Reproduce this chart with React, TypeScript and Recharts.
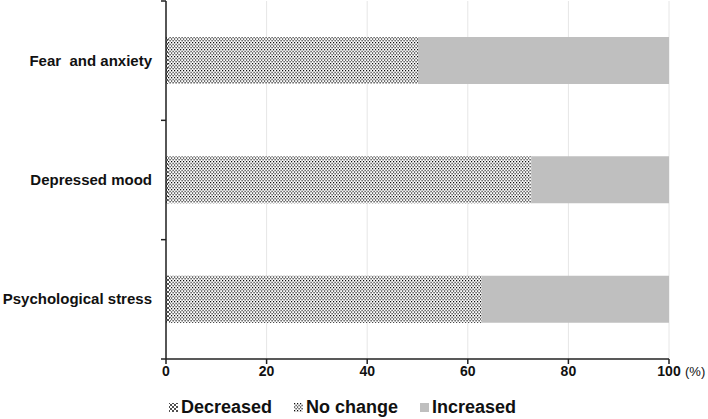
import React from 'react';
import { BarChart, Bar, XAxis, YAxis, CartesianGrid, Legend } from 'recharts';

const categories = ['Fear  and anxiety', 'Depressed mood', 'Psychological stress'];
const decreased = [0.4, 0.4, 0.8];
const noChange = [49.7, 72.2, 62.0];
const increased = [49.9, 27.4, 37.2];
const xTicks = [0, 20, 40, 60, 80, 100];

const data = categories.map((name, i) => ({
  name,
  decreased: decreased[i],
  noChange: noChange[i],
  increased: increased[i],
}));

const W = 708;
const H = 419;
const LEFT_W = 166;
const TOP = 1;
const PLOT_BOTTOM = 359;
const FONT = 'Arial, "Liberation Sans", sans-serif';
const AXIS = '#222';

const band = (PLOT_BOTTOM - TOP) / categories.length;

const CategoryTick = ({ y, payload, index }: any) => {
  const top = y - band / 2;
  return (
    <g>
      <text
        x={LEFT_W - 14}
        y={y}
        dy={5}
        textAnchor="end"
        fontFamily={FONT}
        fontWeight="bold"
        fontSize={15}
        fill="#111"
        style={{ whiteSpace: 'pre' }}
      >
        {payload.value}
      </text>
      <line x1={LEFT_W - 5} x2={LEFT_W} y1={top} y2={top} stroke={AXIS} strokeWidth={1.5} />
      {index === categories.length - 1 && (
        <line x1={LEFT_W - 5} x2={LEFT_W} y1={top + band} y2={top + band} stroke={AXIS} strokeWidth={1.5} />
      )}
    </g>
  );
};

const ValueTick = ({ x, y, payload }: any) => (
  <g>
    <text x={x} y={y} dy={10} textAnchor="middle" fontFamily={FONT} fontWeight="bold" fontSize={14} fill="#111">
      {payload.value}
    </text>
    {payload.value === 100 && (
      <text x={x + 16} y={y} dy={10} textAnchor="start" fontFamily={FONT} fontSize={13} fill="#111">
        (%)
      </text>
    )}
  </g>
);

const legendItems = [
  { key: 'decreased', label: 'Decreased', fill: 'url(#patDec)' },
  { key: 'noChange', label: 'No change', fill: 'url(#patNo)' },
  { key: 'increased', label: 'Increased', fill: '#bfbfbf' },
];

const LegendContent = () => (
  <div
    style={{
      display: 'flex',
      justifyContent: 'center',
      gap: 22,
      paddingTop: 12,
      paddingLeft: 16,
      fontFamily: FONT,
      fontWeight: 'bold',
      fontSize: 18,
      color: '#111',
    }}
  >
    {legendItems.map((it) => (
      <div key={it.key} style={{ display: 'flex', alignItems: 'center', gap: 3 }}>
        <svg width={9} height={9}>
          <rect width={9} height={9} fill={it.fill} />
        </svg>
        <span>{it.label}</span>
      </div>
    ))}
  </div>
);

export default function App() {
  return (
    <div style={{ position: 'absolute', left: 0, top: 0, width: W, height: H, background: '#fff' }}>
      <BarChart
        width={W}
        height={H}
        data={data}
        layout="vertical"
        barSize={47}
        margin={{ top: TOP, right: 39, left: 0, bottom: 0 }}
      >
        <defs>
          <pattern id="patNo" width={3} height={3.5} patternUnits="userSpaceOnUse">
            <rect width={3} height={3.5} fill="#fff" />
            <rect x={0} y={0} width={1.2} height={1.2} fill="#000" />
            <rect x={1.5} y={1.75} width={1.2} height={1.2} fill="#000" />
          </pattern>
          <pattern id="patDec" width={4} height={4} patternUnits="userSpaceOnUse">
            <rect width={4} height={4} fill="#fff" />
            <path d="M0,0 L4,4 M4,0 L0,4" stroke="#222" strokeWidth={0.8} />
          </pattern>
        </defs>
        <CartesianGrid horizontal={false} stroke="#e6e6e6" />
        <XAxis
          type="number"
          domain={[0, 100]}
          ticks={xTicks}
          interval={0}
          height={26}
          tick={<ValueTick />}
          tickSize={5}
          stroke={AXIS}
          axisLine={{ stroke: AXIS, strokeWidth: 1.5 }}
          tickLine={{ stroke: AXIS, strokeWidth: 1.5 }}
        />
        <YAxis
          type="category"
          dataKey="name"
          width={LEFT_W}
          tick={<CategoryTick />}
          tickLine={false}
          axisLine={{ stroke: AXIS, strokeWidth: 1.5 }}
        />
        <Legend verticalAlign="bottom" height={34} content={<LegendContent />} />
        <Bar dataKey="decreased" stackId="a" fill="url(#patDec)" isAnimationActive={false} />
        <Bar dataKey="noChange" stackId="a" fill="url(#patNo)" isAnimationActive={false} />
        <Bar dataKey="increased" stackId="a" fill="#bfbfbf" isAnimationActive={false} />
      </BarChart>
    </div>
  );
}
